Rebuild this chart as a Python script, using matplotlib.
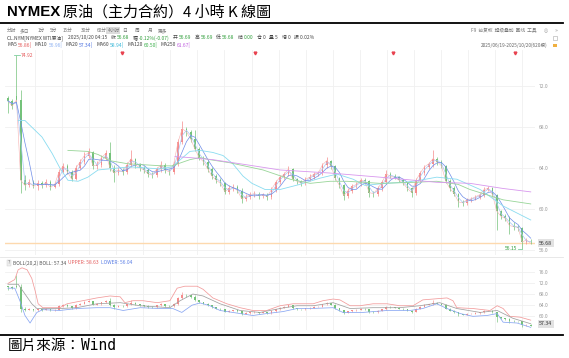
import numpy as np
import pandas as pd
import matplotlib
matplotlib.use("Agg")
import matplotlib.pyplot as plt
from matplotlib.lines import Line2D
from matplotlib.patches import Rectangle

plt.rcParams['font.family'] = ['Noto Sans CJK SC', 'DejaVu Sans']

# 4-hour bars, NYMEX WTI, 2025/06/19 - 2025/10/20 (grouped)
opens = [70.8, 70.5, 71.0, 70.6, 62.8, 62.3, 62.6, 62.2, 62.5, 62.3,
         62.6, 62.1, 62.4, 63.6, 64.2, 63.6, 62.9, 64.0, 64.6, 65.2,
         65.5, 64.2, 64.3, 65.0, 65.4, 64.0, 63.5, 63.8, 63.6, 64.3,
         64.9, 64.3, 64.0, 63.8, 63.4, 63.3, 63.9, 64.3, 63.8, 63.6,
         64.4, 66.5, 67.8, 67.5, 66.8, 65.8, 65.0, 64.6, 63.9, 63.2,
         62.8, 62.5, 61.7, 62.0, 62.1, 61.8, 61.0, 61.2, 61.4, 61.5,
         61.3, 61.4, 61.2, 61.9, 62.6, 63.1, 63.4, 63.9, 62.9, 62.7,
         62.5, 62.9, 63.1, 63.4, 63.5, 64.3, 64.7, 64.2, 63.0, 62.3,
         61.3, 61.8, 62.2, 62.4, 62.8, 62.7, 61.6, 61.5, 62.0, 62.6,
         63.4, 63.2, 63.1, 62.8, 62.5, 62.0, 61.6, 62.8, 63.5, 64.1,
         64.4, 64.9, 64.6, 64.2, 62.7, 62.0, 61.5, 60.7, 60.6, 60.9,
         61.0, 61.2, 61.4, 61.9, 62.0, 61.4, 59.8, 59.3, 59.1, 58.4,
         58.3, 58.2, 56.8, 56.69]
highs = [71.0, 70.7, 74.92, 71.6, 63.3, 62.9, 62.8, 62.8, 62.7, 62.9,
         62.8, 62.6, 63.9, 64.5, 64.4, 63.8, 64.3, 64.9, 65.5, 65.9,
         65.6, 64.7, 65.3, 65.7, 66.5, 64.3, 64.1, 64.0, 64.6, 65.7,
         65.0, 64.5, 64.2, 64.0, 63.6, 64.1, 64.7, 64.5, 63.9, 64.7,
         66.8, 68.6, 68.0, 67.7, 67.7, 66.0, 65.2, 64.8, 64.1, 63.4,
         63.0, 62.6, 62.3, 62.4, 62.3, 62.0, 61.5, 61.7, 61.8, 61.7,
         61.6, 61.6, 62.1, 62.8, 63.3, 63.6, 64.2, 64.0, 63.0, 62.8,
         63.1, 63.4, 63.6, 63.7, 64.5, 65.1, 64.8, 64.3, 63.1, 62.4,
         62.0, 62.4, 62.6, 63.0, 63.0, 62.8, 61.8, 62.2, 62.8, 63.8,
         63.6, 63.4, 63.2, 62.9, 62.6, 62.1, 63.0, 63.7, 64.3, 64.6,
         65.7, 65.1, 64.8, 64.3, 62.9, 62.2, 61.6, 60.9, 61.1, 61.2,
         61.4, 61.6, 62.1, 62.2, 62.1, 61.5, 59.9, 59.5, 59.3, 58.7,
         58.5, 58.3, 57.2, 57.1]
lows = [69.3, 69.7, 70.2, 61.6, 61.9, 62.1, 62.0, 61.9, 62.0, 62.1,
        61.9, 62.0, 62.2, 63.5, 63.4, 62.7, 62.8, 63.9, 64.4, 65.0,
        63.9, 63.9, 64.1, 64.8, 63.7, 62.6, 63.3, 63.3, 63.4, 64.1,
        64.0, 63.7, 63.5, 63.1, 63.0, 63.1, 63.6, 63.5, 63.3, 63.4,
        64.2, 66.3, 67.1, 66.5, 65.6, 64.8, 64.3, 63.6, 62.9, 62.5,
        62.2, 61.5, 61.5, 61.8, 61.6, 60.6, 60.8, 61.0, 61.2, 61.0,
        61.1, 60.9, 61.0, 61.7, 62.4, 62.9, 63.2, 62.7, 62.4, 62.2,
        62.3, 62.7, 62.9, 63.2, 63.3, 64.0, 63.9, 62.8, 62.0, 60.9,
        61.1, 61.6, 62.0, 62.2, 62.4, 61.2, 61.2, 61.3, 61.8, 62.4,
        63.0, 62.9, 62.6, 62.3, 61.8, 61.2, 61.4, 62.6, 63.3, 63.9,
        64.1, 64.3, 64.0, 62.5, 61.8, 61.3, 60.2, 60.3, 60.4, 60.7,
        60.9, 61.0, 61.2, 61.8, 61.2, 58.0, 59.0, 58.8, 57.6, 58.0,
        57.9, 56.15, 56.6, 56.6]
closes = [70.5, 70.0, 70.6, 62.8, 62.3, 62.6, 62.2, 62.5, 62.3, 62.6,
          62.1, 62.4, 63.6, 64.2, 63.6, 62.9, 64.0, 64.6, 65.2, 65.5,
          64.2, 64.3, 65.0, 65.4, 64.0, 63.5, 63.8, 63.6, 64.3, 64.9,
          64.3, 64.0, 63.8, 63.4, 63.3, 63.9, 64.3, 63.8, 63.6, 64.4,
          66.5, 67.8, 67.5, 66.8, 65.8, 65.0, 64.6, 63.9, 63.2, 62.8,
          62.5, 61.7, 62.0, 62.1, 61.8, 61.0, 61.2, 61.4, 61.5, 61.3,
          61.4, 61.2, 61.9, 62.6, 63.1, 63.4, 63.9, 62.9, 62.7, 62.5,
          62.9, 63.1, 63.4, 63.5, 64.3, 64.7, 64.2, 63.0, 62.3, 61.3,
          61.8, 62.2, 62.4, 62.8, 62.7, 61.6, 61.5, 62.0, 62.6, 63.4,
          63.2, 63.1, 62.8, 62.5, 62.0, 61.6, 62.8, 63.5, 64.1, 64.4,
          64.9, 64.6, 64.2, 62.7, 62.0, 61.5, 60.7, 60.6, 60.9, 61.0,
          61.2, 61.4, 61.9, 62.0, 61.4, 59.8, 59.3, 59.1, 58.4, 58.3,
          58.2, 56.8, 57.0, 56.68]

# long moving averages and Bollinger bands (bar position, value)
ma60_x = [2.4, 4.0, 8.0, 10.4, 12.2, 14.1, 16.5, 18.8, 21.2, 28.7, 35.8, 38.6, 42.8, 45.2, 48.2, 50.6, 52.9,
          55.3, 57.4, 60.5, 64.0, 68.7, 73.4, 77.4, 81.2, 84.0, 88.7, 93.4, 96.9, 100.9, 105.6, 111.1, 116.5, 123]
ma60_y = [68.6, 68.6, 67.0, 65.4, 64.0, 62.8, 62.7, 63.1, 63.8, 64.1, 63.9, 64.1, 65.6, 65.7, 65.5, 65.2, 64.4,
          63.2, 62.5, 61.9, 61.9, 62.4, 63.0, 63.4, 62.9, 62.3, 62.5, 62.6, 62.8, 63.1, 62.9, 61.9, 60.3, 58.94]
ma120_x = [14.1, 18.8, 21.2, 24.0, 28.2, 36.2, 38.6, 42.8, 45.2, 47.5, 52.2, 60.0, 66.4, 71.1, 75.8, 79.8,
           87.5, 95.8, 100.9, 105.9, 108.7, 116.5, 123]
ma120_y = [65.7, 65.6, 65.3, 64.7, 64.4, 64.2, 64.2, 64.8, 65.0, 64.8, 64.5, 63.8, 62.9, 62.5, 62.7, 62.7,
           62.5, 62.6, 62.7, 62.4, 61.9, 60.9, 60.5]
ma250_x = [39.3, 42.8, 48.2, 56.2, 64.0, 75.8, 87.5, 100.9, 108.7, 116.5, 123]
ma250_y = [65.1, 65.0, 64.8, 64.3, 63.8, 63.5, 63.1, 62.6, 62.5, 62.0, 61.67]

upper_x = [0, 1.6, 2.4, 3.3, 4.5, 5.6, 6.4, 7.1, 8.2, 12.2, 13.9, 16.2, 18.6, 20.9, 24.0, 26.4, 27.5, 29.4,
           31.8, 35.1, 38.1, 39.8, 41.6, 44.5, 45.9, 48.2, 51.5, 54.6, 57.6, 60.9, 64.0, 67.1, 68.7, 71.8, 74.1,
           76.5, 78.1, 80.5, 82.8, 85.9, 89.2, 92.2, 95.3, 97.6, 100.0, 103.3, 104.7, 105.6, 109.4, 113.4, 115.1,
           116.5, 118.1, 120.5, 123]
upper_y = [71.8, 73.2, 76.7, 77.4, 76.7, 73.6, 69.1, 64.5, 63.1, 63.1, 64.5, 65.2, 65.9, 66.6, 67.3, 67.0, 64.9,
           65.6, 65.6, 64.9, 65.6, 70.1, 70.8, 70.8, 69.7, 66.6, 64.5, 63.1, 62.1, 62.1, 63.8, 64.5, 64.5, 64.5,
           65.6, 66.2, 65.9, 63.8, 63.8, 64.5, 64.5, 63.8, 63.8, 65.9, 66.2, 66.6, 65.6, 63.1, 62.8, 62.1, 63.8,
           62.8, 60.0, 59.7, 58.63]
mid_x = [0, 2.4, 4.0, 5.6, 6.8, 12.2, 16.2, 20.9, 26.4, 31.1, 38.1, 40.5, 43.5, 45.9, 49.9, 54.6, 59.3, 64.0,
         68.0, 71.8, 76.5, 80.5, 85.9, 92.2, 96.9, 101.6, 105.6, 111.1, 115.1, 118.8, 123]
mid_y = [71.5, 71.5, 68.0, 64.5, 62.8, 62.8, 63.1, 64.5, 64.9, 63.8, 63.1, 65.6, 68.0, 67.3, 64.5, 62.1, 61.4,
         62.8, 63.8, 63.8, 64.9, 62.8, 63.1, 63.1, 63.8, 64.9, 62.8, 61.4, 62.1, 59.3, 57.34]
lower_x = [0, 1.6, 2.8, 4.0, 5.2, 5.9, 6.8, 8.2, 12.2, 16.2, 20.9, 24.0, 27.1, 31.1, 35.8, 38.8, 40.9, 43.3,
           45.2, 47.5, 49.9, 54.6, 57.6, 60.9, 64.7, 68.0, 71.1, 76.5, 78.8, 83.5, 89.2, 94.6, 97.6, 100.9,
           103.3, 106.4, 109.4, 112.7, 115.1, 116.5, 119.8, 123]
lower_y = [70.1, 70.1, 65.6, 60.3, 57.6, 59.3, 61.4, 62.4, 62.1, 62.8, 63.1, 63.1, 62.1, 63.1, 62.8, 62.8, 61.4,
           64.0, 64.8, 63.8, 62.1, 61.0, 60.3, 61.0, 61.7, 62.8, 62.8, 63.1, 61.4, 61.4, 62.1, 62.1, 62.8, 64.5,
           62.8, 61.0, 60.0, 60.3, 61.0, 57.9, 57.6, 56.04]

event_bars = [26.8, 58.1, 90.6, 119.3]
last_price = 56.68
main_ticks = [56, 60, 64, 68, 72]
boll_ticks = [60, 64, 68, 72, 76]

UP = '#f58c8c'
DOWN = '#74c27a'
GREEN_TXT = '#2f9e3a'

c = pd.Series(closes)
ma5 = c.rolling(1).mean()
ma10 = c.rolling(2, min_periods=1).mean()
ma20 = c.rolling(4, min_periods=1).mean()

W, H = 569, 358
fig = plt.figure(figsize=(W / 100, H / 100), dpi=100)
fig.patch.set_facecolor('white')
renderer = fig.canvas.get_renderer()


def fx(px):
    return px / W


def fy(py):
    return 1 - py / H


def runs(x, y, items, size):
    # consecutive text pieces, each with its own colour
    for item in items:
        text, color, gap = item[:3]
        kw = dict(fontsize=size, color=color, va='center', ha='left')
        if len(item) > 3:
            kw.update(item[3])
        t = fig.text(fx(x), fy(y), text, **kw)
        x += t.get_window_extent(renderer=renderer).width + gap
    return x


def draw_candles(a, body_w, wick_lw):
    o = np.array(opens)
    cl = np.array(closes)
    idx = np.arange(len(cl))
    cols = np.where(cl >= o, UP, DOWN)
    a.vlines(idx, lows, highs, colors=cols, lw=wick_lw, zorder=2)
    a.bar(idx, np.maximum(np.abs(cl - o), 0.04), bottom=np.minimum(o, cl), width=body_w,
          color=cols, lw=0, zorder=3)


grid_x = 6.35 + 6.37 * np.arange(19)

ax = fig.add_axes([fx(5), fy(255), fx(535) - fx(5), (255 - 50) / H])
ax2 = fig.add_axes([fx(5), fy(330), fx(535) - fx(5), (330 - 260) / H])
for a, ticks in ((ax, main_ticks), (ax2, boll_ticks)):
    for s in a.spines.values():
        s.set_visible(False)
    a.set_xlim(-0.7, 124.0)
    a.set_xticks(grid_x)
    a.set_yticks(ticks)
    a.yaxis.set_major_formatter('{x:.1f}')
    a.tick_params(axis='x', length=0, labelbottom=False)
    a.tick_params(axis='y', length=0, labelleft=False, labelright=True, labelsize=3.6,
                  labelcolor='#9a9a9a', pad=3)
    a.grid(True, color='#f0f0f0', lw=0.6)
    a.set_axisbelow(True)
ax.set_ylim(55.54, 75.45)
ax2.set_ylim(55.1, 80.2)

# main panel
ax.axhline(last_price, color='#fdd9ae', lw=1.0, zorder=1)
draw_candles(ax, 0.45, 0.5)
idx = np.arange(len(closes))
ax.plot(idx, ma5, color='#f7b0b0', lw=0.4, zorder=4)
ax.plot(idx, ma10, color='#a8c6f5', lw=0.5, zorder=4)
ax.plot(idx, ma20, color='#6d8ce8', lw=0.5, zorder=4)
ax.plot(ma60_x, ma60_y, color='#8adcf0', lw=0.6, zorder=4)
ax.plot(ma120_x, ma120_y, color='#98d598', lw=0.6, zorder=4)
ax.plot(ma250_x, ma250_y, color='#d897ee', lw=0.6, zorder=4)

hi = int(np.argmax(highs))
lo = int(np.argmin(lows))
ax.plot([hi - 0.5, hi + 0.8], [highs[hi], highs[hi]], color='#7fcf9f', lw=0.6)
ax.text(hi + 0.9, highs[hi], f"{highs[hi]:.2f}", color='#e45c5c', fontsize=3.6, va='center', ha='left')
ax.plot([lo - 1.0, lo], [lows[lo], lows[lo]], color='#7fcf9f', lw=0.6)
ax.text(lo - 1.1, lows[lo], f"{lows[lo]:.2f}", color=GREEN_TXT, fontsize=3.6, va='center', ha='right')
ax.plot(event_bars, [0.985] * len(event_bars), 'v', color='#e8414f', ms=2.0,
        transform=ax.get_xaxis_transform(), clip_on=False)
ax.text(1.008, last_price, f"{last_price:.2f}", transform=ax.get_yaxis_transform(), fontsize=3.8,
        color='#333333', va='center', ha='left',
        bbox=dict(facecolor='#e2e2e2', edgecolor='none', pad=0.9))

# BOLL panel
draw_candles(ax2, 0.4, 0.45)
ax2.plot(upper_x, upper_y, color='#f29a9a', lw=0.55, zorder=4)
ax2.plot(mid_x, mid_y, color='#a0a0a0', lw=0.55, zorder=4)
ax2.plot(lower_x, lower_y, color='#88a6f2', lw=0.55, zorder=4)
ax2.text(1.008, mid_y[-1], f"{mid_y[-1]:.2f}", transform=ax2.get_yaxis_transform(), fontsize=3.8,
         color='#333333', va='center', ha='left',
         bbox=dict(facecolor='#e2e2e2', edgecolor='none', pad=0.9))

# frame lines
fig.add_artist(Line2D([0, fx(563)], [fy(23), fy(23)], color='black', lw=1.3))
fig.add_artist(Line2D([0, fx(563)], [fy(335), fy(335)], color='black', lw=1.3))
fig.add_artist(Line2D([fx(0), fx(563)], [fy(256.5), fy(256.5)], color='#e4e4e4', lw=0.6))

# title
runs(7, 12.5, [("NYMEX", '#000000', 3, {'fontweight': 'bold', 'family': ['Liberation Sans']}),
               ("原油（主力合約）4 小時 K 線圖", '#000000', 0,
                {'family': ['Noto Sans CJK TC', 'DejaVu Sans'], 'fontweight': 'medium'})], 10.8)

# toolbar
tools = [("分时", 7), ("多日", 20), ("1分", 38), ("5分", 50), ("15分", 63), ("30分", 81),
         ("60分", 97), ("4小时", 107.5), ("日", 122), ("周", 135), ("月", 148), ("更多", 158)]
fig.patches.append(Rectangle((fx(106), fy(34)), fx(120) - fx(106), 6.5 / H, transform=fig.transFigure,
                             facecolor='#dcdcdc', edgecolor='none'))
for name, px in tools:
    fig.text(fx(px), fy(30.8), name, fontsize=3.4, color='#777777', va='center', ha='left')
fig.text(fx(537), fy(30.8), "F9  前复权  超级叠加  画线  工具", fontsize=3.4, color='#777777',
         va='center', ha='right')
fig.text(fx(546), fy(30.8), "◎", fontsize=3.4, color='#999999', va='center', ha='center',
         family=['DejaVu Sans'])
fig.text(fx(556), fy(30.8), "»", fontsize=3.6, color='#999999', va='center', ha='center',
         family=['DejaVu Sans'])
fig.text(fx(547), fy(45), "2025/06/19-2025/10/20(620根)", fontsize=3.4, color='#666666',
         va='center', ha='right')
fig.patches.append(Rectangle((fx(553), fy(47)), 4 / W, 3.5 / H, transform=fig.transFigure,
                             facecolor='#f0b040', edgecolor='none'))
fig.patches.append(Rectangle((fx(553), fy(40)), 4 / W, 4 / H, transform=fig.transFigure,
                             facecolor='none', edgecolor='#aaaaaa', lw=0.4))

# quote line
g = '#444444'
runs(7, 37.8, [("CL.NYM[NYMEX WTI原油]", g, 5), ("2025/10/20 04:15", g, 4),
               ("收", g, 1), ("56.68", GREEN_TXT, 3.5), ("幅", g, 1), ("-0.12%(-0.07)", GREEN_TXT, 3.5),
               ("开", g, 1), ("56.69", GREEN_TXT, 3.5), ("高", g, 1), ("56.69", GREEN_TXT, 3.5),
               ("低", g, 1), ("56.68", GREEN_TXT, 3.5), ("结", g, 1), ("0.00", GREEN_TXT, 3.5),
               ("仓 0", g, 3.5), ("量 5", g, 3.5), ("增 0", g, 3.5), ("振 0.02%", g, 0)], 3.5)
runs(7, 44.5, [("MA5", g, 1.2), ("56.86|", '#e45c5c', 3), ("MA10", g, 1.2), ("56.96|", '#8fb2f2', 3),
               ("MA20", g, 1.2), ("57.34|", '#4f73e0', 3), ("MA60", g, 1.2), ("58.94|", '#3ab8d8', 3),
               ("MA120", g, 1.2), ("60.50|", '#3cb04c', 3), ("MA250", g, 1.2), ("61.67|", '#c060e0', 0)], 3.6)
runs(8, 263, [("?", '#777777', 2.5, {'bbox': dict(facecolor='#eeeeee', edgecolor='#cccccc', lw=0.3, pad=0.4)}),
              ("BOLL(20,2) BOLL: 57.34", '#555555', 2), ("UPPER: 58.63", '#e45c5c', 2),
              ("LOWER: 56.04", '#5b7fe6', 0)], 3.5)

# source
runs(8, 346, [("圖片來源：", '#000000', 0, {'family': ['Noto Sans CJK TC']}),
              ("Wind", '#000000', 0, {'family': ['DejaVu Sans Mono']})], 10.5)

fig.savefig('out.png', dpi=100, facecolor='white')
